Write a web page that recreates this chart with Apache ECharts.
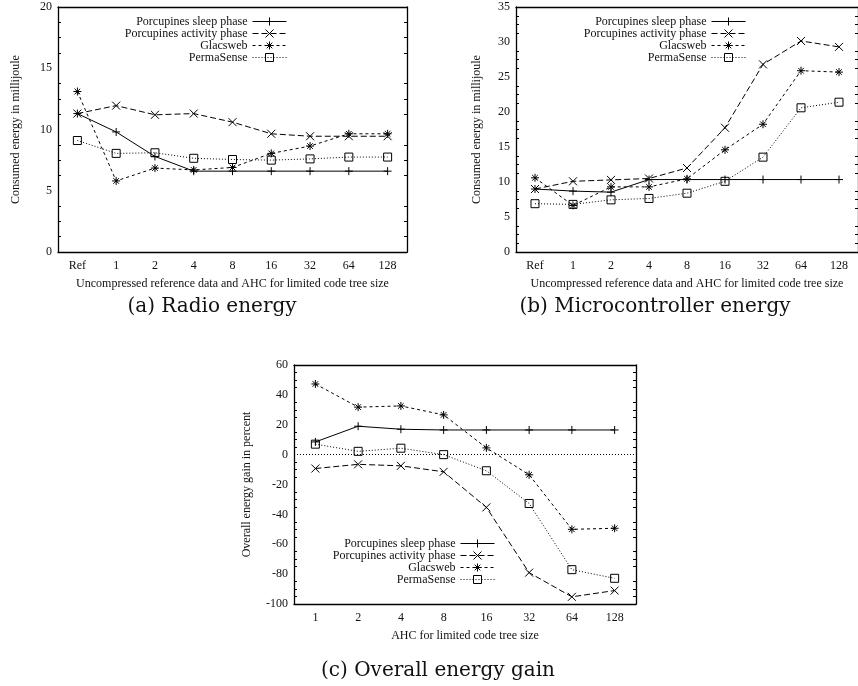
<!DOCTYPE html>
<html>
<head>
<meta charset="utf-8">
<script src="https://cdn.jsdelivr.net/npm/echarts@6/dist/echarts.min.js"></script>
<style>
  html, body { margin: 0; padding: 0; background: #fff; }
  #main { width: 858px; height: 686px; }
</style>
</head>
<body>
<div id="main"></div>
<script>
var seriesNames = ['Porcupines sleep phase', 'Porcupines activity phase', 'Glacsweb', 'PermaSense'];
var catsRef = ['Ref', '1', '2', '4', '8', '16', '32', '64', '128'];
var catsAhc = ['1', '2', '4', '8', '16', '32', '64', '128'];

// (a) radio energy in mJ
var radioSleep = [11.3, 9.8, 7.8, 6.6, 6.6, 6.6, 6.6, 6.6, 6.6];
var radioActivity = [11.3, 11.95, 11.2, 11.3, 10.6, 9.65, 9.45, 9.45, 9.45];
var radioGlacsweb = [13.1, 5.8, 6.85, 6.7, 6.9, 8.05, 8.65, 9.65, 9.65];
var radioPermaSense = [9.1, 8.05, 8.1, 7.65, 7.55, 7.5, 7.6, 7.75, 7.75];

// (b) microcontroller energy in mJ
var mcuSleep = [9.0, 8.7, 8.55, 10.35, 10.35, 10.35, 10.35, 10.35, 10.35];
var mcuActivity = [9.0, 10.1, 10.3, 10.5, 12.0, 17.75, 26.8, 30.15, 29.3];
var mcuGlacsweb = [10.6, 6.65, 9.3, 9.3, 10.45, 14.6, 18.25, 25.9, 25.7];
var mcuPermaSense = [6.9, 6.8, 7.45, 7.65, 8.4, 10.1, 13.55, 20.6, 21.4];

// (c) overall energy gain in percent
var gainSleep = [8.5, 19, 17, 16.5, 16.5, 16.5, 16.5, 16.5];
var gainActivity = [-9.3, -6.5, -7.5, -11.5, -35.3, -79, -95.2, -91];
var gainGlacsweb = [47.3, 31.8, 32.6, 26.6, 4.5, -13.5, -50, -49.3];
var gainPermaSense = [7, 2.2, 4.3, 0, -10.8, -32.7, -77, -82.8];

var serif = 'Liberation Serif';
var ink = '#111';

// gnuplot style point types and dash patterns
var symbols = [
  'path://M0,5L10,5M5,0L5,10',
  'path://M0,0L10,10M0,10L10,0',
  'path://M0,5L10,5M5,0L5,10M1.5,1.5L8.5,8.5M1.5,8.5L8.5,1.5',
  'path://M0,0L10,0L10,10L0,10Z'
];
var symbolSizes = [8, 8, 8, 8];
var dashes = ['solid', [6, 3], [3, 3], [1, 2]];

var grids = [], xAxes = [], yAxes = [], series = [];

function addPanel(box, cats, min, max, interval, xName, yName, yGap, data) {
  var gi = grids.length;
  grids.push({ left: box[0], top: box[1], width: box[2], height: box[3], containLabel: false });
  var line = { show: true, onZero: false, lineStyle: { color: '#000', width: 1.3 } };
  var xTick = { inside: true, alignWithLabel: true, interval: 0, length: 5, lineStyle: { color: '#000' } };
  xAxes.push({
    gridIndex: gi, type: 'category', data: cats, boundaryGap: true, position: 'bottom',
    axisLine: line, axisTick: xTick,
    axisLabel: { interval: 0, color: ink, fontFamily: serif, fontSize: 12, margin: 8 },
    name: xName, nameLocation: 'middle', nameGap: 26,
    nameTextStyle: { color: ink, fontFamily: serif, fontSize: 12 }
  });
  xAxes.push({
    gridIndex: gi, type: 'category', data: cats, boundaryGap: true, position: 'top',
    axisLine: line, axisTick: xTick, axisLabel: { show: false }
  });
  var yTick = { inside: true, length: 5, lineStyle: { color: '#000' } };
  var yMinor = { show: true, splitNumber: 4, length: 3, lineStyle: { color: '#000' } };
  yAxes.push({
    gridIndex: gi, type: 'value', min: min, max: max, interval: interval, position: 'left',
    axisLine: line, axisTick: yTick, minorTick: yMinor, splitLine: { show: false },
    axisLabel: { color: ink, fontFamily: serif, fontSize: 12, margin: 6 },
    name: yName, nameLocation: 'middle', nameRotate: 90, nameGap: yGap,
    nameTextStyle: { color: ink, fontFamily: serif, fontSize: 12 }
  });
  yAxes.push({
    gridIndex: gi, type: 'value', min: min, max: max, interval: interval, position: 'right',
    axisLine: line, axisTick: yTick, minorTick: yMinor, splitLine: { show: false },
    axisLabel: { show: false }
  });
  data.forEach(function (vals, i) {
    series.push({
      name: seriesNames[i], type: 'line', data: vals,
      xAxisIndex: 2 * gi, yAxisIndex: 2 * gi,
      symbol: symbols[i], symbolSize: symbolSizes[i], showAllSymbol: true,
      lineStyle: { color: '#000', width: 1, type: dashes[i] },
      itemStyle: { color: 'none', borderColor: '#000', borderWidth: 1 },
      emphasis: { disabled: true }
    });
  });
  return gi;
}

addPanel([58, 7, 349, 245], catsRef, 0, 20, 5,
  'Uncompressed reference data and AHC for limited code tree size',
  'Consumed energy in millijoule', 36,
  [radioSleep, radioActivity, radioGlacsweb, radioPermaSense]);
addPanel([516, 7, 349, 245], catsRef, 0, 35, 5,
  'Uncompressed reference data and AHC for limited code tree size',
  'Consumed energy in millijoule', 33,
  [mcuSleep, mcuActivity, mcuGlacsweb, mcuPermaSense]);
addPanel([294, 365, 342, 239], catsAhc, -100, 60, 20,
  'AHC for limited code tree size',
  'Overall energy gain in percent', 41,
  [gainSleep, gainActivity, gainGlacsweb, gainPermaSense]);

// dotted zero line in (c)
series[8].markLine = {
  silent: true, symbol: 'none', label: { show: false },
  lineStyle: { color: '#000', width: 1, type: [1, 2] },
  data: [{ yAxis: 0 }]
};

function legendAt(right, top) {
  return {
    orient: 'vertical', align: 'right', right: right, top: top, padding: 0,
    itemGap: -1, itemWidth: 34, itemHeight: 10, selectedMode: false,
    data: seriesNames,
    lineStyle: { width: 1 },
    itemStyle: { borderWidth: 1 },
    textStyle: { color: ink, fontFamily: serif, fontSize: 12, lineHeight: 11 }
  };
}

function caption(text, x, y) {
  return {
    type: 'text', x: x, y: y,
    style: { text: text, font: '20px "DejaVu Serif"', fill: ink, align: 'center', verticalAlign: 'middle' }
  };
}

var myChart = echarts.init(document.getElementById('main'));
var option = {
  animation: false,
  backgroundColor: '#fff',
  grid: grids,
  xAxis: xAxes,
  yAxis: yAxes,
  legend: [legendAt(571, 15), legendAt(112, 15), legendAt(363, 537)],
  series: series,
  graphic: [
    caption('(a) Radio energy', 212, 307),
    caption('(b) Microcontroller energy', 655, 307),
    caption('(c) Overall energy gain', 438, 671)
  ]
};
myChart.setOption(option);
</script>
</body>
</html>
